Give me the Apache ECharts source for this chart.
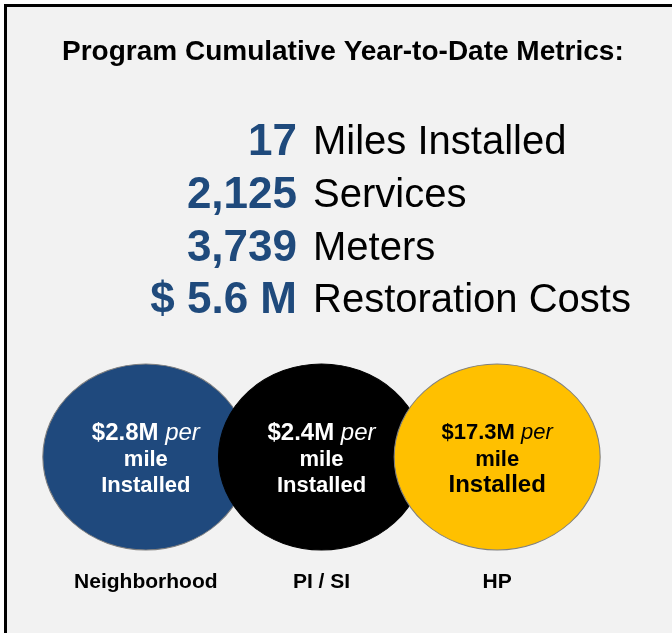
<!DOCTYPE html>
<html>
<head>
<meta charset="utf-8">
<script src="https://cdn.jsdelivr.net/npm/echarts@6/dist/echarts.min.js"></script>
<style>
  html, body { margin: 0; padding: 0; background: #fff; }
  #chart { width: 672px; height: 633px; }
</style>
</head>
<body>
<div id="chart"></div>
<script>
// program metrics
const metricValues = ['17', '2,125', '3,739', '$ 5.6 M']
const metricLabels = ['Miles Installed', 'Services', 'Meters', 'Restoration Costs']

// cost per mile by program ($M)
const categories = ['Neighborhood', 'PI / SI', 'HP']
const costPerMile = [2.8, 2.4, 17.3]
const circleColors = ['#1F497D', '#000000', '#FFC000']
const textColors = ['#ffffff', '#ffffff', '#000000']

const FONT = '"Liberation Sans", Arial, sans-serif'
const NUM_BLUE = '#1F4A7C'

const chart = echarts.init(document.getElementById('chart'), null, { renderer: 'canvas' })

// metric rows: number right aligned, label left aligned
const rowY = [143, 196, 249, 301]
let metricText = []
metricValues.forEach((v, i) => {
  metricText.push({
    type: 'text',
    x: 297,
    y: rowY[i],
    style: {
      text: v,
      fill: NUM_BLUE,
      font: 'bold 44px ' + FONT,
      textAlign: 'right',
      textVerticalAlign: 'middle'
    }
  })
  metricText.push({
    type: 'text',
    x: 313,
    y: rowY[i],
    style: {
      text: metricLabels[i],
      fill: '#000',
      font: '40px ' + FONT,
      textAlign: 'left',
      textVerticalAlign: 'middle'
    }
  })
})

const bubbleData = costPerMile.map((c, i) => {
  const isHP = i === 2
  return {
    value: [i, 0, c],
    itemStyle: { color: circleColors[i], borderColor: isHP || i === 0 ? '#7F7F7F' : '#000' },
    label: {
      color: textColors[i],
      rich: {
        b: { fontSize: isHP ? 22 : 24, fontWeight: 'bold', fontFamily: FONT, color: textColors[i], lineHeight: 27 },
        i: { fontSize: isHP ? 22 : 24, fontStyle: 'italic', fontFamily: FONT, color: textColors[i], lineHeight: 27 },
        m: { fontSize: 22, fontWeight: 'bold', fontFamily: FONT, color: textColors[i], lineHeight: 26 },
        n: { fontSize: isHP ? 24 : 22, fontWeight: 'bold', fontFamily: FONT, color: textColors[i], lineHeight: 26 }
      }
    }
  }
})

const option = {
  backgroundColor: '#ffffff',
  animation: false,
  title: {
    text: 'Program Cumulative Year-to-Date Metrics:',
    left: 57,
    top: 33,
    textStyle: { fontSize: 28, fontWeight: 'bold', color: '#000', fontFamily: FONT }
  },
  grid: { left: 58, width: 527, top: 364, bottom: 83 },
  xAxis: {
    type: 'category',
    data: categories,
    axisLine: { show: false },
    axisTick: { show: false },
    splitLine: { show: false },
    axisLabel: { interval: 0, fontSize: 21, fontWeight: 'bold', color: '#000', fontFamily: FONT, margin: 22 }
  },
  yAxis: { type: 'value', min: -1, max: 1, show: false },
  graphic: [
    { type: 'rect', z: -10, shape: { x: 4, y: 4, width: 668, height: 629 }, style: { fill: '#F2F2F2' } },
    { type: 'rect', z: -9, shape: { x: 4, y: 4, width: 668, height: 3 }, style: { fill: '#000' } },
    { type: 'rect', z: -9, shape: { x: 4, y: 4, width: 3, height: 629 }, style: { fill: '#000' } }
  ].concat(metricText),
  series: [{
    type: 'scatter',
    symbol: 'path://M0,50A50,50,0,1,1,100,50A50,50,0,1,1,0,50Z',
    symbolSize: [206, 186],
    emphasis: { disabled: true },
    itemStyle: { borderWidth: 1, opacity: 1 },
    label: {
      show: true,
      position: 'inside',
      offset: [0, 2],
      formatter: (p) => '{b|$' + p.value[2] + 'M }{i|per}\n{m|mile}\n{n|Installed}'
    },
    data: bubbleData
  }]
}

chart.setOption(option)
</script>
</body>
</html>
